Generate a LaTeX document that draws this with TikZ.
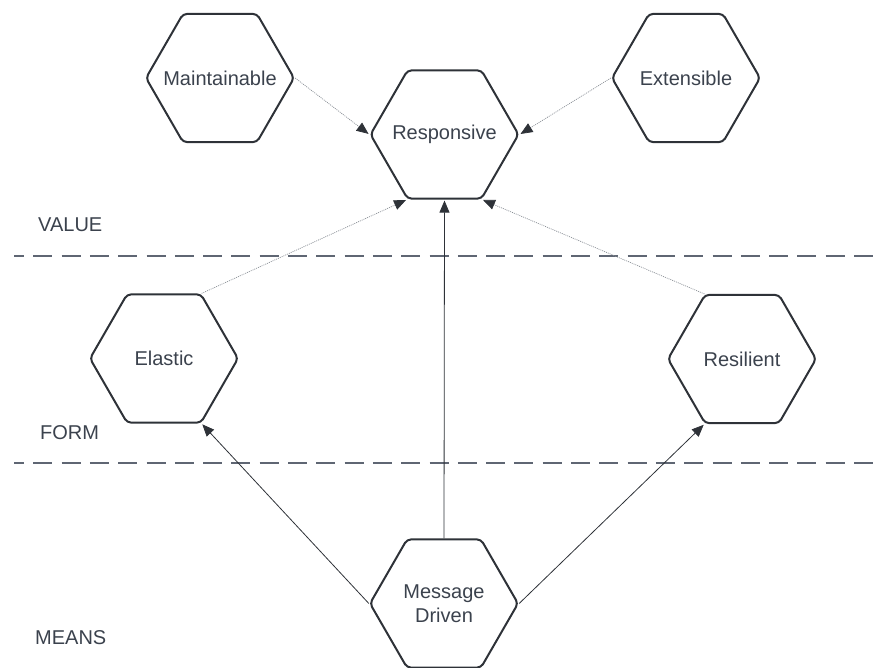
\documentclass[tikz,border=0pt]{standalone}
\usepackage{fontspec}
\setmainfont{Liberation Sans}
\usetikzlibrary{shapes.geometric,arrows.meta}
\definecolor{edge}{HTML}{2E3238}
\definecolor{txt}{HTML}{3B424D}
\definecolor{dashc}{HTML}{5F6673}
\definecolor{dotc}{HTML}{8A8F96}
\begin{document}
\begin{tikzpicture}[x=1pt,y=-1pt,
  hexa/.style={draw=edge, line width=2pt, regular polygon, regular polygon sides=6,
    minimum size=148pt, inner sep=-30pt, rounded corners=4pt, text=txt,
    font=\fontsize{20}{24}\selectfont, align=center},
  lbl/.style={anchor=west, inner sep=0pt, text=txt, font=\fontsize{20}{24}\selectfont},
  sep/.style={draw=dashc, line width=1.3pt, dash pattern=on 19pt off 9.3pt, dash phase=9pt},
  dotarrow/.style={draw=dotc, line width=0.7pt, dash pattern=on 1pt off 1pt,
    -{Triangle[length=12pt,width=10pt,fill=edge,color=edge]}, shorten >=1pt},
  solidarrow/.style={draw=edge, line width=0.8pt,
    -{Triangle[length=12pt,width=10pt,fill=edge,color=edge]}, shorten >=1pt}
]
\useasboundingbox (0,0) rectangle (881,667);
\clip (0,0) rectangle (881,667);

\node[hexa] (maint) at (220,78) {Maintainable};
\node[hexa] (resp) at (444.5,134.5) {Responsive};
\node[hexa] (ext) at (686,78) {Extensible};
\node[hexa] (elas) at (164,358.5) {Elastic};
\node[hexa] (resil) at (742,359) {Resilient};
\node[hexa] (msg) at (444,603.5) {Message\\Driven};

\coordinate (s1a) at (14,256);
\coordinate (s1b) at (873,256);
\coordinate (s2a) at (14,463);
\coordinate (s2b) at (873,463);
\draw[sep] (s1a) -- (s1b);
\draw[sep] (s2a) -- (s2b);

\node[lbl] (value) at (38,224.5) {VALUE};
\node[lbl] (form) at (40,432.5) {FORM};
\node[lbl] (means) at (35,637.5) {MEANS};

\draw[dotarrow] (maint.0) -- (resp.180);
\draw[dotarrow] (ext.180) -- (resp.0);
\draw[dotarrow] (elas.60) -- (resp.240);
\draw[dotarrow] (resil.120) -- (resp.300);
\draw[solidarrow] (msg.90) -- (resp.270);
\draw[solidarrow] (msg.180) -- (elas.300);
\draw[solidarrow] (msg.0) -- (resil.240);
\end{tikzpicture}
\end{document}
